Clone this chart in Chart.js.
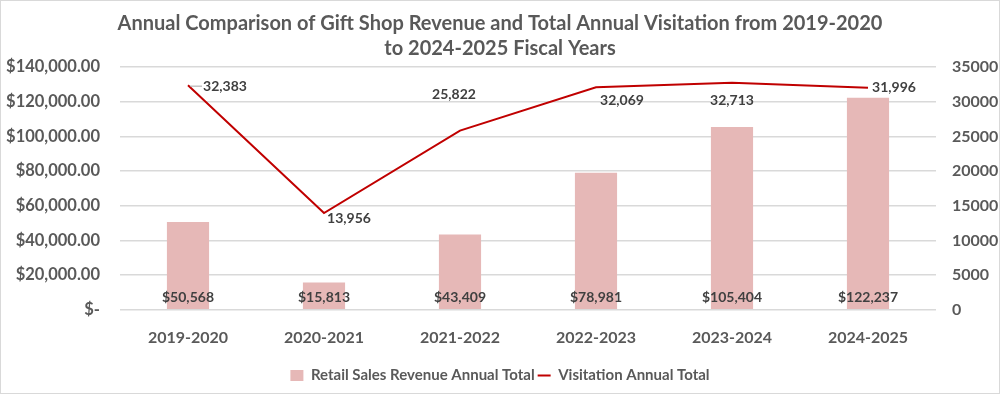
<!DOCTYPE html>
<html>
<head>
<meta charset="utf-8">
<script src="https://cdn.jsdelivr.net/npm/chart.js@4.4.1/dist/chart.umd.min.js"></script>
<style>
  html, body { margin: 0; padding: 0; background: #fff; }
  #wrap { width: 998px; height: 392px; border: 1px solid #d9d9d9; position: relative; }
</style>
</head>
<body>
<div id="wrap"><canvas id="myChart"></canvas></div>
<script>
// fiscal years
const years = ['2019-2020', '2020-2021', '2021-2022', '2022-2023', '2023-2024', '2024-2025'];
// gift shop revenue ($)
const revenue = [50568, 15813, 43409, 78981, 105404, 122237];
// total visitation
const visitation = [32383, 13956, 25822, 32069, 32713, 31996];

// where the visitation labels sit relative to their point (dx, dy)
const visLabelPos = [[37, 1], [25, 5], [-6, -36], [26, 13], [0, 18], [26, 0]];

const grey = '#595959';
const fontName = 'Lato';

function money(v) {
    if (v == 0) return '$-';
    return '$' + v.toLocaleString('en-US', { minimumFractionDigits: 2, maximumFractionDigits: 2 });
}

// draws the value labels on bars and line points
const valueLabels = {
    id: 'valueLabels',
    afterDatasetsDraw(chart) {
        const ctx = chart.ctx;
        ctx.save();
        ctx.font = 'bold 14px ' + fontName;
        ctx.fillStyle = '#404040';
        ctx.textAlign = 'center';
        ctx.textBaseline = 'middle';
        const barMeta = chart.getDatasetMeta(0);
        barMeta.data.forEach((bar, i) => {
            ctx.fillText('$' + revenue[i].toLocaleString('en-US'), bar.x, bar.base - 12);
        });
        const lineMeta = chart.getDatasetMeta(1);
        // short leader line for the first label
        const p0 = lineMeta.data[0];
        ctx.strokeStyle = '#a6a6a6';
        ctx.lineWidth = 1;
        ctx.beginPath();
        ctx.moveTo(p0.x + 2, p0.y + 1);
        ctx.lineTo(p0.x + 14, p0.y + 1);
        ctx.stroke();
        lineMeta.data.forEach((pt, i) => {
            ctx.fillText(visitation[i].toLocaleString('en-US'), pt.x + visLabelPos[i][0], pt.y + visLabelPos[i][1]);
        });
        ctx.restore();
    }
};

const ctx = document.getElementById('myChart').getContext('2d');
const myChart = new Chart(ctx, {
    type: 'bar',
    data: {
        labels: years,
        datasets: [{
            type: 'bar',
            label: 'Retail Sales Revenue Annual Total',
            data: revenue,
            backgroundColor: '#E6B8B7',
            yAxisID: 'y',
            categoryPercentage: 1,
            barPercentage: 0.31,
            order: 1,
            pointStyle: 'rect'
        }, {
            type: 'line',
            label: 'Visitation Annual Total',
            data: visitation,
            borderColor: '#C00000',
            backgroundColor: '#C00000',
            borderWidth: 2,
            pointRadius: 0,
            tension: 0,
            yAxisID: 'y1',
            order: 0,
            pointStyle: 'line'
        }]
    },
    options: {
        responsive: true,
        maintainAspectRatio: false,
        animation: false,
        layout: { padding: { left: 0, right: 0, top: 2, bottom: 0 } },
        plugins: {
            title: {
                display: true,
                text: ['Annual Comparison of Gift Shop Revenue and Total Annual Visitation from 2019-2020', 'to 2024-2025 Fiscal Years'],
                color: grey,
                font: { family: fontName, size: 20, weight: 'bold', lineHeight: 1.25 },
                padding: { top: 8, bottom: 6 }
            },
            legend: {
                position: 'bottom',
                labels: {
                    color: grey,
                    font: { family: fontName, size: 15, weight: 'bold' },
                    usePointStyle: true,
                    boxHeight: 11,
                    pointStyleWidth: 13,
                    padding: 3,
                    sort: (a, b) => a.datasetIndex - b.datasetIndex
                }
            },
            tooltip: { enabled: false }
        },
        scales: {
            x: {
                grid: { display: false, drawTicks: false },
                border: { display: false },
                ticks: {
                    color: grey,
                    font: { family: fontName, size: 16, weight: 'bold' },
                    padding: 18
                }
            },
            y: {
                position: 'left',
                min: 0,
                max: 140000,
                afterFit: (scale) => { scale.width = 119; },
                ticks: {
                    stepSize: 20000,
                    color: grey,
                    font: { family: fontName, size: 16.5, weight: 'bold' },
                    padding: 20,
                    callback: function (value) { return money(value); }
                },
                grid: { color: '#d9d9d9', lineWidth: 1.5, drawTicks: false },
                border: { display: false }
            },
            y1: {
                position: 'right',
                min: 0,
                max: 35000,
                afterFit: (scale) => { scale.width = 63; },
                ticks: {
                    stepSize: 5000,
                    color: grey,
                    font: { family: fontName, size: 16, weight: 'bold' },
                    padding: 16,
                    callback: function (value) { return String(value); }
                },
                grid: { display: false, drawTicks: false },
                border: { display: false }
            }
        }
    },
    plugins: [valueLabels]
});
</script>
</body>
</html>
